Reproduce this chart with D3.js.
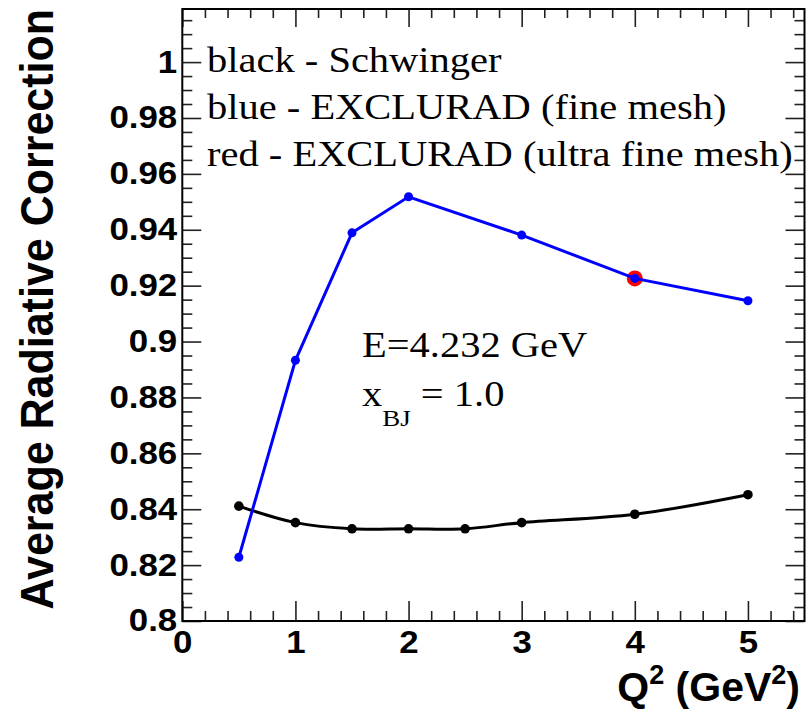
<!DOCTYPE html>
<html><head><meta charset="utf-8">
<script src="https://cdn.jsdelivr.net/npm/d3@7"></script>
<style>body{margin:0;background:#fff}</style>
</head><body><svg id="c" width="810" height="715"></svg>
<script>
// ---- data ----
const q2Schwinger = [0.5, 1, 1.5, 2, 2.5, 3, 4, 5];
const schwinger = [0.8411, 0.8352, 0.8330, 0.8330, 0.8330, 0.8352, 0.8382, 0.8452];
const q2Fine = [0.5, 1, 1.5, 2, 3, 4, 5];
const fineMesh = [0.8228, 0.8933, 0.9389, 0.9518, 0.9381, 0.9226, 0.9146];
const q2Ultra = [4];
const ultraFineMesh = [0.9226];
const xTicks = [0, 1, 2, 3, 4, 5];
const yTicks = [0.8, 0.82, 0.84, 0.86, 0.88, 0.9, 0.92, 0.94, 0.96, 0.98, 1.0];
const yTickLabels = ["0.8", "0.82", "0.84", "0.86", "0.88", "0.9", "0.92", "0.94", "0.96", "0.98", "1"];
const legendLines = ["black - Schwinger", "blue - EXCLURAD (fine mesh)", "red - EXCLURAD (ultra fine mesh)"];

const SX = 1.125; // horizontal stretch of glyphs in the reference
const svg = d3.select("#c");
const L = 182.3, R = 804.5, T = 9, B = 621;
const x = d3.scaleLinear([0, 5.5], [L, R]);
const y = d3.scaleLinear([0.8, 1.019], [B, T]);

const xMinor = d3.range(0, 5.5001, 0.2).map(v => +v.toFixed(2)).filter(v => Math.abs(v - Math.round(v)) > 1e-6);
const yMinor = d3.range(0.8, 1.0191, 0.005).map(v => +v.toFixed(3)).filter(v => !yTicks.some(t => Math.abs(t - v) < 1e-6));

const sans = "'Liberation Sans', Arial, Helvetica, sans-serif";
const serif = "'Liberation Serif', 'Times New Roman', Times, serif";
function styleAxis(g) {
  g.select(".domain").remove();
  g.selectAll(".tick line").attr("stroke", "#222").attr("stroke-width", 1.6);
  g.selectAll("text").attr("font-family", sans).attr("font-weight", "bold").attr("font-size", 31)
    .attr("fill", "#000").attr("transform", `scale(${SX},1)`);
}
// left axis with labels
svg.append("g").attr("transform", `translate(${L},0)`)
  .call(d3.axisLeft(y).tickValues(yTicks).tickSize(-19).tickPadding(4.5).tickFormat((d, i) => yTickLabels[i]))
  .call(styleAxis);
svg.append("g").attr("transform", `translate(${L},0)`)
  .call(d3.axisLeft(y).tickValues(yMinor).tickSize(-10).tickFormat(""))
  .call(styleAxis);
// right axis
svg.append("g").attr("transform", `translate(${R},0)`)
  .call(d3.axisRight(y).tickValues(yTicks).tickSize(-19).tickFormat(""))
  .call(styleAxis);
svg.append("g").attr("transform", `translate(${R},0)`)
  .call(d3.axisRight(y).tickValues(yMinor).tickSize(-10).tickFormat(""))
  .call(styleAxis);
// bottom axis
svg.append("g").attr("transform", `translate(0,${B})`)
  .call(d3.axisBottom(x).tickValues(xTicks).tickSize(-20).tickPadding(10).tickFormat(d3.format("d")))
  .call(styleAxis);
svg.append("g").attr("transform", `translate(0,${B})`)
  .call(d3.axisBottom(x).tickValues(xMinor).tickSize(-10).tickFormat(""))
  .call(styleAxis);
// top axis
svg.append("g").attr("transform", `translate(0,${T})`)
  .call(d3.axisTop(x).tickValues(xTicks).tickSize(-18).tickFormat(""))
  .call(styleAxis);
svg.append("g").attr("transform", `translate(0,${T})`)
  .call(d3.axisTop(x).tickValues(xMinor).tickSize(-9).tickFormat(""))
  .call(styleAxis);

// frame
svg.append("rect").attr("x", L).attr("y", T).attr("width", R - L).attr("height", B - T)
  .attr("fill", "none").attr("stroke", "#000").attr("stroke-width", 2);

// black Schwinger curve
const sData = q2Schwinger.map((q, i) => [q, schwinger[i]]);
svg.append("path").datum(sData)
  .attr("d", d3.line().x(d => x(d[0])).y(d => y(d[1])).curve(d3.curveCatmullRom.alpha(0.5)))
  .attr("fill", "none").attr("stroke", "#000").attr("stroke-width", 3);
svg.append("g").selectAll("circle").data(sData).join("circle")
  .attr("cx", d => x(d[0])).attr("cy", d => y(d[1])).attr("r", 4.8).attr("fill", "#000");

// red ultra fine
const uData = q2Ultra.map((q, i) => [q, ultraFineMesh[i]]);
svg.append("g").selectAll("circle").data(uData).join("circle")
  .attr("cx", d => x(d[0])).attr("cy", d => y(d[1])).attr("r", 8).attr("fill", "#ff0000");

// blue fine mesh
const fData = q2Fine.map((q, i) => [q, fineMesh[i]]);
svg.append("path").datum(fData)
  .attr("d", d3.line().x(d => x(d[0])).y(d => y(d[1])))
  .attr("fill", "none").attr("stroke", "#0000ff").attr("stroke-width", 3);
svg.append("g").selectAll("circle").data(fData).join("circle")
  .attr("cx", d => x(d[0])).attr("cy", d => y(d[1])).attr("r", 4.5).attr("fill", "#0000ff");

// legend text
const legendBase = [71.5, 118.5, 166];
svg.append("g").selectAll("text").data(legendLines).join("text")
  .attr("transform", (d, i) => `translate(207,${legendBase[i]}) scale(${SX},1)`)
  .attr("font-family", serif).attr("font-size", 36).attr("fill", "#000").text(d => d);

// annotations
svg.append("text").attr("transform", `translate(362,357) scale(${SX},1)`)
  .attr("font-family", serif).attr("font-size", 36).text("E=4.232 GeV");
const xb = svg.append("text").attr("transform", `translate(362,406) scale(${SX},1)`)
  .attr("font-family", serif).attr("font-size", 36);
xb.append("tspan").text("x");
xb.append("tspan").attr("font-size", 24).attr("dy", 20).text("BJ");
xb.append("tspan").attr("dy", -20).text(" = 1.0");

// axis titles
svg.append("text").attr("transform", `translate(53,9) scale(1.06,1) rotate(-90)`)
  .attr("text-anchor", "end").attr("font-family", sans).attr("font-weight", "bold")
  .attr("font-size", 43).text("Average Radiative Correction");
const xt = svg.append("text").attr("transform", `translate(800,701)`).attr("text-anchor", "end")
  .attr("font-family", sans).attr("font-weight", "bold").attr("font-size", 41);
xt.append("tspan").text("Q");
xt.append("tspan").attr("font-size", 27).attr("dy", -17).text("2");
xt.append("tspan").attr("dy", 17).text(" (GeV");
xt.append("tspan").attr("font-size", 27).attr("dy", -17).text("2");
xt.append("tspan").attr("dy", 17).text(")");
</script></body></html>
